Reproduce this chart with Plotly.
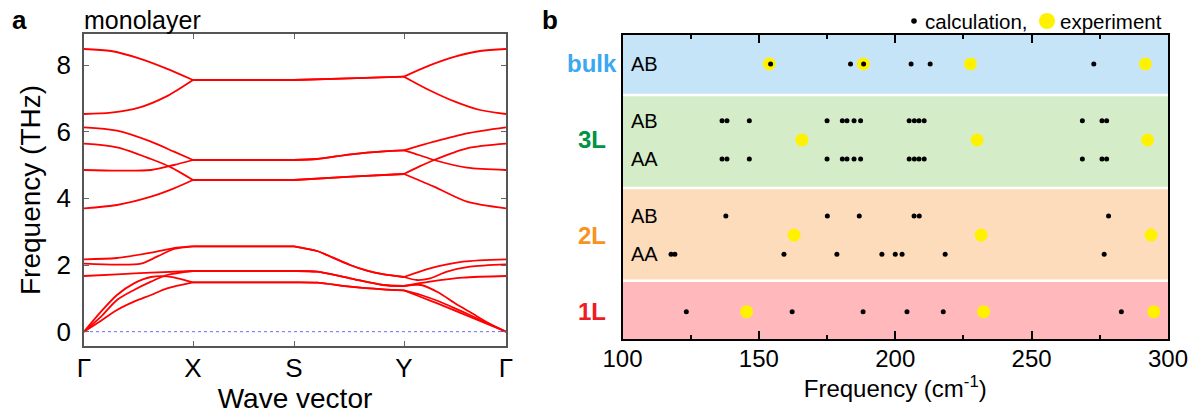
import plotly.graph_objects as go

W, H = 1200, 419
FONT = "Liberation Sans, Arial, Helvetica, sans-serif"

# ---------------- Panel a: phonon dispersion of the monolayer ----------------
k_nodes = [0, 109, 210, 320, 422]
k_labels = ["Γ", "X", "S", "Y", "Γ"]

band_T1 = [(0, 8.48), (27, 8.42), (55, 8.20), (82, 7.90), (109, 7.55), (160, 7.55), (210, 7.55),
           (265, 7.60), (320, 7.65), (345, 7.98), (371, 8.25), (396, 8.42), (422, 8.48)]
band_T2 = [(0, 6.53), (27, 6.57), (55, 6.72), (82, 7.05), (109, 7.55), (160, 7.55), (210, 7.55),
           (265, 7.60), (320, 7.65), (345, 7.25), (371, 6.90), (396, 6.65), (422, 6.53)]
band_M1 = [(0, 6.13), (33, 6.03), (67, 5.70), (90, 5.40), (109, 5.15), (160, 5.15), (210, 5.15),
           (233, 5.18), (267, 5.32), (300, 5.41), (320, 5.44), (350, 5.70), (383, 5.95), (422, 6.13)]
band_M2 = [(0, 5.64), (33, 5.53), (67, 5.18), (87, 4.93), (109, 4.55), (160, 4.55), (210, 4.55),
           (267, 4.65), (320, 4.73), (335, 4.95), (350, 5.15), (383, 5.50), (422, 5.64)]
band_M3 = [(0, 4.85), (33, 4.83), (67, 4.85), (90, 5.00), (109, 5.15), (160, 5.15), (210, 5.15),
           (233, 5.18), (267, 5.32), (300, 5.41), (320, 5.44), (335, 5.30), (350, 5.15), (383, 4.92), (422, 4.85)]
band_M4 = [(0, 3.70), (33, 3.80), (67, 4.05), (90, 4.30), (109, 4.55), (160, 4.55), (210, 4.55),
           (267, 4.65), (320, 4.73), (350, 4.35), (383, 3.90), (422, 3.70)]
band_L1 = [(0, 2.17), (33, 2.21), (67, 2.37), (93, 2.52), (109, 2.56), (160, 2.56), (210, 2.56),
           (233, 2.42), (249, 2.22), (266, 2.00), (283, 1.83), (300, 1.72), (320, 1.64),
           (346, 1.90), (379, 2.10), (422, 2.17)]
band_L2 = [(0, 2.04), (33, 2.01), (57, 2.04), (73, 2.25), (90, 2.48), (109, 2.56), (160, 2.56), (210, 2.56),
           (233, 2.42), (249, 2.22), (266, 2.00), (283, 1.83), (300, 1.72), (320, 1.64),
           (333, 1.55), (346, 1.60), (363, 1.80), (386, 1.95), (422, 2.02)]
band_L3 = [(0, 1.67), (33, 1.72), (67, 1.77), (109, 1.82), (160, 1.82), (210, 1.82),
           (233, 1.80), (266, 1.60), (299, 1.40), (320, 1.37), (346, 1.50), (379, 1.62), (422, 1.67)]
band_A1 = [(0, 0.0), (17, 0.60), (33, 1.10), (50, 1.45), (67, 1.64), (83, 1.66), (109, 1.48),
           (160, 1.48), (210, 1.48), (233, 1.47), (266, 1.35), (299, 1.27), (320, 1.24),
           (337, 1.10), (354, 0.92), (371, 0.70), (388, 0.47), (405, 0.23), (422, 0.0)]
band_A2 = [(0, 0.0), (17, 0.45), (33, 0.95), (50, 1.25), (67, 1.50), (83, 1.70), (109, 1.82),
           (160, 1.82), (210, 1.82), (233, 1.80), (266, 1.60), (299, 1.40), (320, 1.37),
           (337, 1.40), (354, 1.18), (371, 0.85), (388, 0.55), (405, 0.25), (422, 0.0)]
band_A3 = [(0, 0.0), (17, 0.33), (33, 0.65), (50, 0.90), (67, 1.10), (83, 1.30), (109, 1.48),
           (160, 1.48), (210, 1.48), (233, 1.47), (266, 1.35), (299, 1.27), (320, 1.24),
           (337, 1.04), (354, 0.84), (371, 0.63), (388, 0.42), (405, 0.21), (422, 0.0)]

bands = [band_T1, band_T2, band_M1, band_M2, band_M3, band_M4,
         band_L1, band_L2, band_L3, band_A1, band_A2, band_A3]

# ---------------- Panel b: Raman frequencies ----------------
calc_bulk_AB = [154.3, 183.6, 188.4, 205.8, 212.8, 272.8]
calc_3L_AB = [136.5, 138.3, 146.5, 175.0, 180.6, 182.3, 184.9, 187.3, 205.1, 207.0, 208.7, 210.6, 268.6, 275.8, 277.5]
calc_3L_AA = [136.5, 138.3, 146.5, 175.0, 180.6, 182.3, 184.9, 187.3, 205.1, 207.0, 208.7, 210.6, 268.6, 275.8, 277.5]
calc_2L_AB = [137.9, 175.1, 186.8, 206.9, 208.8, 278.2]
calc_2L_AA = [117.8, 119.2, 159.2, 178.6, 195.1, 200.0, 202.5, 218.3, 276.6]
calc_1L = [123.4, 162.2, 188.2, 204.3, 217.6, 282.9]

exp_bulk = [153.8, 188.3, 227.6, 291.7]
exp_3L = [165.8, 230.0, 292.5]
exp_2L = [162.9, 231.5, 293.8]
exp_1L = [145.5, 232.4, 294.8]

layer_names = ["1L", "2L", "3L", "bulk"]
layer_colors = ["#ee1c25", "#f7931e", "#009346", "#3ba8f2"]
layer_bg = ["#ffb8bc", "#fddcbb", "#d5ecc8", "#c6e4f8"]
layer_bounds = [0, 1.92, 4.97, 8.03, 10]      # y extents of the coloured bands
layer_label_y = [0.90, 3.42, 6.55, 9.05]

row_y = {"bulk_AB": 9.05, "3L_AB": 7.18, "3L_AA": 5.92, "2L_AB": 4.05, "2L_AA": 2.79, "1L": 0.90}

fig = go.Figure()

# zero line
fig.add_trace(go.Scatter(x=[k_nodes[0], k_nodes[-1]], y=[0, 0], mode="lines",
                         line=dict(color="#6a6aff", width=1, dash="dot"),
                         xaxis="x", yaxis="y", showlegend=False, hoverinfo="skip"))

for b in bands:
    for s in range(len(k_nodes) - 1):
        ka, kb = k_nodes[s], k_nodes[s + 1]
        pts = [p for p in b if ka <= p[0] <= kb]
        fig.add_trace(go.Scatter(x=[p[0] for p in pts], y=[p[1] for p in pts], mode="lines",
                                 line=dict(color="#ff0000", width=1.8, shape="spline", smoothing=0.8),
                                 xaxis="x", yaxis="y", showlegend=False, hoverinfo="skip"))

# experiment (yellow) first, then calculation (black)
for vals, yy in [(exp_bulk, layer_label_y[3]), (exp_3L, layer_label_y[2]),
                 (exp_2L, layer_label_y[1]), (exp_1L, layer_label_y[0])]:
    fig.add_trace(go.Scatter(x=vals, y=[yy] * len(vals), mode="markers",
                             marker=dict(color="#fff200", size=13, line=dict(width=0)),
                             xaxis="x2", yaxis="y2", showlegend=False))
for vals, key in [(calc_bulk_AB, "bulk_AB"), (calc_3L_AB, "3L_AB"), (calc_3L_AA, "3L_AA"),
                  (calc_2L_AB, "2L_AB"), (calc_2L_AA, "2L_AA"), (calc_1L, "1L")]:
    fig.add_trace(go.Scatter(x=vals, y=[row_y[key]] * len(vals), mode="markers",
                             marker=dict(color="black", size=5, line=dict(width=0)),
                             xaxis="x2", yaxis="y2", showlegend=False))

shapes = []
for i in range(4):
    shapes.append(dict(type="rect", xref="x2", yref="y2", x0=100, x1=300,
                       y0=layer_bounds[i], y1=layer_bounds[i + 1],
                       fillcolor=layer_bg[i], line=dict(width=0), layer="below"))
for yb in layer_bounds[1:-1]:
    shapes.append(dict(type="line", xref="x2", yref="y2", x0=100, x1=300, y0=yb, y1=yb,
                       line=dict(color="white", width=2.5), layer="below"))

def px(x):
    return x / W

def py(y):
    return 1 - y / H

# legend marks
shapes.append(dict(type="circle", xref="paper", yref="paper", xsizemode="pixel", ysizemode="pixel",
                   xanchor=px(914), yanchor=py(21), x0=-2.8, x1=2.8, y0=-2.8, y1=2.8,
                   fillcolor="black", line=dict(width=0)))
shapes.append(dict(type="circle", xref="paper", yref="paper", xsizemode="pixel", ysizemode="pixel",
                   xanchor=px(1047), yanchor=py(21), x0=-8, x1=8, y0=-8, y1=8,
                   fillcolor="#fff200", line=dict(width=0)))

ann = []
ann.append(dict(text="<b>a</b>", x=px(10), y=py(20), xref="paper", yref="paper", xanchor="left",
                yanchor="middle", showarrow=False, font=dict(size=26, color="black", family=FONT)))
ann.append(dict(text="monolayer", x=px(82), y=py(20), xref="paper", yref="paper", xanchor="left",
                yanchor="middle", showarrow=False, font=dict(size=25, color="black", family=FONT)))
ann.append(dict(text="<b>b</b>", x=px(540), y=py(20), xref="paper", yref="paper", xanchor="left",
                yanchor="middle", showarrow=False, font=dict(size=26, color="black", family=FONT)))
ann.append(dict(text="calculation,", x=px(1030), y=py(21), xref="paper", yref="paper", xanchor="right",
                yanchor="middle", showarrow=False, font=dict(size=20.5, color="black", family=FONT)))
ann.append(dict(text="experiment", x=px(1164), y=py(21), xref="paper", yref="paper", xanchor="right",
                yanchor="middle", showarrow=False, font=dict(size=20.5, color="black", family=FONT)))
for name, col, yy in zip(layer_names, layer_colors, layer_label_y):
    ann.append(dict(text=f"<b>{name}</b>", x=px(592), y=yy, xref="paper", yref="y2", xanchor="center",
                    yanchor="middle", showarrow=False, font=dict(size=24, color=col, family=FONT)))
for key, lab in [("bulk_AB", "AB"), ("3L_AB", "AB"), ("3L_AA", "AA"), ("2L_AB", "AB"), ("2L_AA", "AA")]:
    ann.append(dict(text=lab, x=102.5, y=row_y[key], xref="x2", yref="y2", xanchor="left",
                    yanchor="middle", showarrow=False, font=dict(size=20, color="black", family=FONT)))

fig.update_layout(
    width=W, height=H, margin=dict(l=0, r=0, t=0, b=0, autoexpand=False),
    paper_bgcolor="white", plot_bgcolor="white",
    font=dict(family=FONT, color="black"),
    showlegend=False,
    xaxis=dict(domain=[px(84), px(506)], range=[0, 422], tickmode="array", tickvals=k_nodes,
               ticktext=k_labels, ticks="inside", ticklen=5, tickcolor="#666", tickwidth=1.2,
               showline=True, linecolor="#555", linewidth=1.5, mirror="ticks", showgrid=False,
               zeroline=False, tickfont=dict(size=26), ticklabelstandoff=-2, automargin=False,
               title=dict(text="Wave vector", font=dict(size=28), standoff=6), anchor="y"),
    yaxis=dict(domain=[py(346), py(34)], range=[-0.43, 8.93], tickvals=[0, 2, 4, 6, 8],
               ticks="inside", ticklen=5, tickcolor="#666", tickwidth=1.2,
               showline=True, linecolor="#555", linewidth=1.5, mirror="ticks", showgrid=False,
               zeroline=False, tickfont=dict(size=26), ticklabelstandoff=6, automargin=False,
               title=dict(text="Frequency (THz)", font=dict(size=28), standoff=8), anchor="x"),
    xaxis2=dict(domain=[px(622.5), px(1168)], range=[100, 300], tickvals=[100, 150, 200, 250, 300],
                ticks="inside", ticklen=8, tickcolor="black", tickwidth=1.5,
                minor=dict(dtick=25, tick0=100, ticks="inside", ticklen=4, tickcolor="black", tickwidth=1.5),
                showline=True, linecolor="black", linewidth=2, mirror="ticks", showgrid=False,
                zeroline=False, tickfont=dict(size=24), ticklabelstandoff=-3, automargin=False,
                title=dict(text="Frequency (cm<sup>-1</sup>)", font=dict(size=24), standoff=6), anchor="y2"),
    yaxis2=dict(domain=[py(339), py(35)], range=[0, 10], showticklabels=False, ticks="",
                showline=True, linecolor="black", linewidth=2, mirror=True, showgrid=False,
                zeroline=False, anchor="x2", automargin=False),
    shapes=shapes, annotations=ann,
)

fig.write_html("out.html")
